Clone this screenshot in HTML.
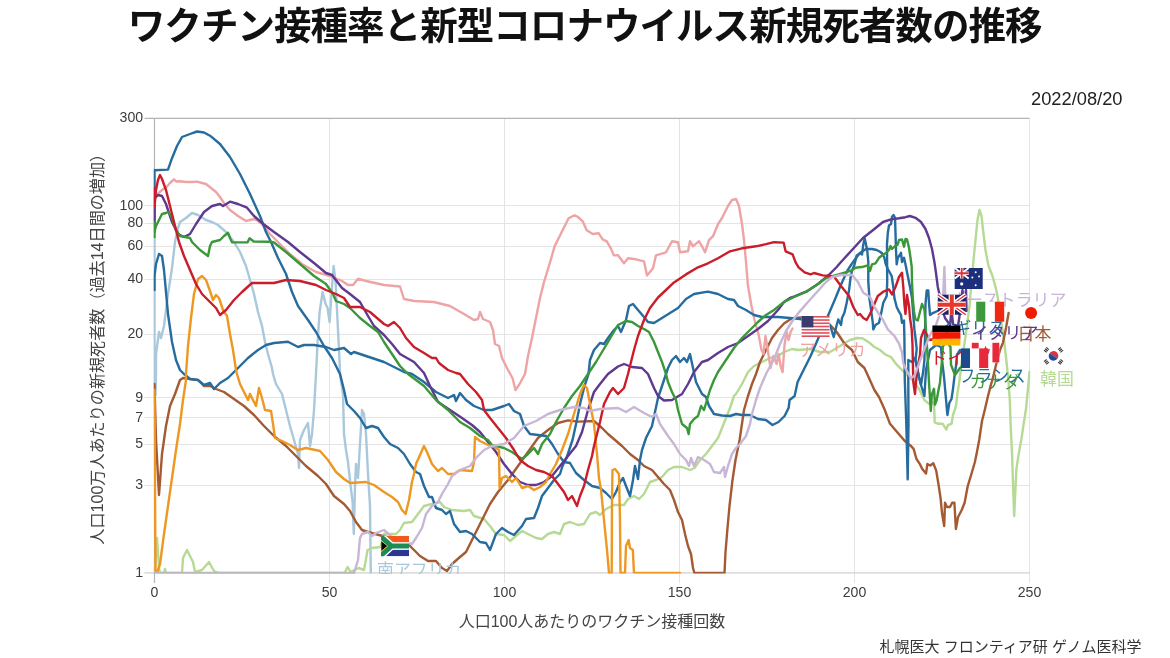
<!DOCTYPE html>
<html lang="ja"><head><meta charset="utf-8"><title>ワクチン接種率と新型コロナウイルス新規死者数の推移</title>
<style>
html,body{margin:0;padding:0;background:#fff;}
body{width:1170px;height:658px;overflow:hidden;position:relative;font-family:"Liberation Sans","Noto Sans CJK JP",sans-serif;}
svg{position:absolute;left:0;top:0;display:block;}
.t{font-family:"Liberation Sans","Noto Sans CJK JP",sans-serif;}
.tick{font-size:14.1px;fill:#3c3c3c;}
.ln{fill:none;stroke-width:2.4;stroke-linejoin:round;stroke-linecap:round;}
.lab{font-size:16.9px;}
</style></head><body>
<svg width="1170" height="658" viewBox="0 0 1170 658">
<rect width="1170" height="658" fill="#fff"/>
<text class="t" x="584.7" y="38.8" text-anchor="middle" font-size="37.5" letter-spacing="-0.95" font-weight="bold" fill="#111">ワクチン接種率と新型コロナウイルス新規死者数の推移</text>
<text class="t" x="1122.5" y="104.7" text-anchor="end" font-size="18.3" fill="#222">2022/08/20</text>
<text class="t" x="1141.5" y="651.8" text-anchor="end" font-size="15" fill="#333">札幌医大 フロンティア研 ゲノム医科学</text>
<text class="t" x="592" y="626.6" text-anchor="middle" font-size="16" fill="#444">人口100人あたりのワクチン接種回数</text>
<text class="t" transform="translate(103.2,345.3) rotate(-90)" text-anchor="middle" font-size="16.1" fill="#444">人口100万人あたりの新規死者数（過去14日間の増加）</text>
<g stroke="#e4e4e4" stroke-width="1" fill="none">
<line x1="144.5" y1="485.5" x2="1029.5" y2="485.5"/>
<line x1="144.5" y1="444.5" x2="1029.5" y2="444.5"/>
<line x1="144.5" y1="417.5" x2="1029.5" y2="417.5"/>
<line x1="144.5" y1="397.5" x2="1029.5" y2="397.5"/>
<line x1="144.5" y1="334.5" x2="1029.5" y2="334.5"/>
<line x1="144.5" y1="279.5" x2="1029.5" y2="279.5"/>
<line x1="144.5" y1="246.5" x2="1029.5" y2="246.5"/>
<line x1="144.5" y1="223.5" x2="1029.5" y2="223.5"/>
<line x1="144.5" y1="205.5" x2="1029.5" y2="205.5"/>
<line x1="329.5" y1="118.3" x2="329.5" y2="583"/>
<line x1="504.5" y1="118.3" x2="504.5" y2="583"/>
<line x1="679.5" y1="118.3" x2="679.5" y2="583"/>
<line x1="854.5" y1="118.3" x2="854.5" y2="583"/>
<line x1="1029.5" y1="118.3" x2="1029.5" y2="583"/>
</g>
<line x1="144.5" y1="572.8" x2="1029.5" y2="572.8" stroke="#d0d0d0" stroke-width="1.2"/>
<g stroke="#b4b4b4" stroke-width="1.2" fill="none">
<line x1="144.5" y1="118.4" x2="1029.5" y2="118.4"/>
<line x1="154.5" y1="118.3" x2="154.5" y2="583"/>
</g>
<text class="t tick" x="143.1" y="576.5" text-anchor="end">1</text>
<text class="t tick" x="143.1" y="489.0" text-anchor="end">3</text>
<text class="t tick" x="143.1" y="448.3" text-anchor="end">5</text>
<text class="t tick" x="143.1" y="421.5" text-anchor="end">7</text>
<text class="t tick" x="143.1" y="401.5" text-anchor="end">9</text>
<text class="t tick" x="143.1" y="337.8" text-anchor="end">20</text>
<text class="t tick" x="143.1" y="282.6" text-anchor="end">40</text>
<text class="t tick" x="143.1" y="250.3" text-anchor="end">60</text>
<text class="t tick" x="143.1" y="227.4" text-anchor="end">80</text>
<text class="t tick" x="143.1" y="209.6" text-anchor="end">100</text>
<text class="t tick" x="143.1" y="122.1" text-anchor="end">300</text>
<text class="t tick" x="154.5" y="597.3" text-anchor="middle">0</text>
<text class="t tick" x="329.5" y="597.3" text-anchor="middle">50</text>
<text class="t tick" x="504.5" y="597.3" text-anchor="middle">100</text>
<text class="t tick" x="679.5" y="597.3" text-anchor="middle">150</text>
<text class="t tick" x="854.5" y="597.3" text-anchor="middle">200</text>
<text class="t tick" x="1029.5" y="597.3" text-anchor="middle">250</text>
<clipPath id="cp"><rect x="153.6" y="116.8" width="876.8" height="456.7"/></clipPath>
<clipPath id="cl"><rect x="300" y="500" width="200" height="73.90000000000009"/></clipPath>
<filter id="bl" x="-2%" y="-2%" width="104%" height="104%"><feGaussianBlur stdDeviation="0.6"/></filter>
<g clip-path="url(#cp)"><g filter="url(#bl)">
<polyline class="ln" stroke="#aac8dc" points="154.5,236.0 154.5,395.0 155.5,395.0 156.0,374.0 156.0,354.0 159.0,332.0 161.0,338.0 164.0,326.0 168.0,294.0 172.0,268.0 175.0,242.0 178.0,228.0 180.0,222.0 186.0,218.0 192.0,213.0 198.0,215.0 206.0,220.0 212.0,222.0 218.0,225.0 226.0,232.0 234.0,242.0 240.0,252.0 246.0,266.0 250.0,280.0 254.0,294.0 258.0,312.0 262.0,326.0 265.0,342.0 268.0,354.0 272.0,368.0 273.0,374.0 276.0,384.0 282.0,394.0 286.0,410.0 290.0,426.0 294.0,440.0 298.0,454.0 299.0,468.0 300.0,440.0 304.0,430.0 308.0,423.0 310.0,446.0 312.0,434.0 314.0,410.0 316.0,374.0 317.6,342.0 319.6,312.0 322.6,292.0 325.6,304.0 327.6,308.0 329.6,322.0 331.6,292.0 333.6,266.0 335.6,282.0 337.6,322.0 339.6,362.0 340.0,374.0 343.0,394.0 344.0,434.0 346.0,450.0 348.0,462.0 350.6,486.0 352.6,502.0 353.8,534.0 355.0,486.0 356.0,464.0 358.0,478.0 360.0,444.0 362.0,410.0 364.0,414.0 366.0,434.0 368.0,474.0 370.0,506.0 370.8,573.0"/>
<polyline class="ln" stroke="#b6da94" points="154.5,573.0 157.0,538.0 159.0,568.0 160.0,573.0 164.0,573.0 165.0,569.0 166.0,573.0 182.0,573.0 183.0,558.0 187.0,550.0 190.0,556.0 193.0,562.0 195.0,572.0 202.0,570.0 209.0,562.0 214.0,571.0 219.0,573.0 344.6,573.0 347.6,567.0 350.6,572.0 358.6,568.0 364.0,570.0 367.6,550.0 372.0,548.0 380.6,547.0 384.0,534.0 396.0,534.0 400.0,530.0 404.0,523.0 412.0,522.0 418.0,514.0 424.0,506.0 432.0,504.0 440.0,502.0 444.0,507.0 452.0,510.0 464.0,511.0 470.0,510.0 474.0,516.0 484.0,519.0 490.0,526.0 496.0,534.0 504.0,535.0 510.0,541.0 516.0,536.0 522.0,531.0 528.0,534.0 536.0,538.0 542.0,539.0 548.0,534.0 554.0,532.0 560.0,534.0 564.0,524.0 570.0,522.0 578.0,525.0 584.0,524.0 590.0,514.0 596.0,512.0 600.0,515.0 606.0,509.0 614.0,505.0 624.0,505.0 628.0,499.0 634.0,496.0 639.0,499.0 644.0,494.0 650.0,482.0 656.0,480.0 662.0,477.0 668.0,470.0 674.0,467.0 682.0,467.0 690.0,470.0 694.5,468.0 700.0,460.0 706.0,454.0 712.0,446.0 718.0,438.0 722.0,428.0 726.0,418.0 730.0,408.0 734.0,396.0 736.0,394.0 742.0,384.0 748.0,372.0 754.0,366.0 762.0,362.0 770.0,358.0 778.0,356.0 784.0,352.0 792.0,349.0 798.0,350.0 810.0,349.0 820.0,352.0 830.0,352.0 840.0,346.0 850.0,340.0 857.0,338.0 863.0,338.5 869.0,342.4 874.4,347.0 880.0,350.0 885.5,354.7 891.0,357.0 896.7,364.7 902.0,370.0 907.8,375.8 913.3,381.0 919.0,389.0 924.4,400.0 930.0,404.7 934.0,402.0 934.7,422.3 938.4,423.8 942.7,423.8 946.4,429.6 948.0,425.0 951.5,423.8 953.0,415.0 956.0,406.0 957.3,394.6 959.5,380.0 962.0,360.0 965.0,340.0 967.0,325.0 969.5,306.0 971.5,282.0 973.5,260.0 975.5,240.0 977.5,220.0 979.5,210.0 981.5,216.0 983.5,234.0 985.5,250.0 988.5,266.0 992.5,276.0 996.3,290.0 998.5,302.0 1001.0,320.0 1004.0,340.0 1006.5,362.0 1008.4,380.0 1009.9,402.0 1010.6,423.8 1012.0,453.0 1013.5,498.0 1014.2,516.0 1015.0,498.0 1016.4,469.0 1018.6,454.6 1021.5,438.4 1023.7,423.8 1026.0,409.0 1027.4,394.6 1028.8,380.0 1029.5,372.0"/>
<polyline class="ln" stroke="#a45a32" points="154.5,384.0 156.0,440.0 159.0,495.0 162.0,454.0 166.0,426.0 170.0,406.0 175.0,394.0 180.0,380.0 183.0,378.0 190.0,379.0 198.0,380.0 204.0,386.0 210.0,386.0 216.0,389.0 224.0,392.0 234.0,399.0 244.0,406.0 254.0,415.0 264.0,426.0 274.0,436.0 286.0,446.0 296.0,456.0 306.0,466.0 318.0,476.0 326.0,484.0 334.0,496.0 344.0,504.0 350.0,511.0 356.0,522.0 362.0,530.0 368.0,532.0 390.0,538.0 408.0,544.0 414.0,550.0 420.0,556.0 428.0,561.0 436.0,561.0 442.0,568.0 447.0,571.0 452.0,564.0 460.0,557.0 466.0,552.0 472.0,540.0 478.0,528.0 484.0,516.0 490.0,504.0 498.0,492.0 508.0,480.0 518.0,466.0 528.0,452.0 538.0,438.0 548.0,430.0 558.0,423.0 568.0,420.4 578.0,421.6 594.0,421.0 602.0,428.0 608.0,434.0 615.0,440.0 622.0,446.0 630.0,454.0 638.0,460.0 644.0,466.0 652.0,470.0 658.0,477.0 664.0,484.0 670.0,490.0 674.0,500.0 678.0,512.0 682.0,520.0 685.0,534.0 688.0,546.0 691.0,554.0 693.0,568.0 694.4,573.0 724.5,573.0 725.5,552.0 727.5,528.0 729.5,506.0 732.5,480.0 735.5,460.0 739.6,440.0 744.0,410.0 748.0,396.0 752.0,384.0 756.0,374.0 760.0,362.0 766.0,350.0 772.0,338.0 778.0,330.0 784.0,323.5 790.0,319.5 794.0,318.0 802.0,317.5 815.0,319.0 829.7,324.5 836.7,332.0 844.8,344.0 852.0,350.0 857.8,362.0 864.4,368.0 869.0,378.0 874.4,390.0 879.0,397.0 884.4,409.0 890.0,423.8 897.5,432.5 904.8,441.0 910.6,445.7 913.6,448.8 916.5,459.0 919.4,463.3 922.3,469.0 926.0,473.6 927.4,464.0 930.3,465.5 933.3,463.3 936.2,470.6 938.4,483.8 940.6,498.4 942.0,513.0 944.2,526.0 945.0,502.7 947.0,507.0 950.0,507.0 952.2,502.7 954.4,502.7 955.9,529.0 958.0,517.3 961.7,510.0 964.6,502.7 967.6,486.7 972.0,472.0 974.9,462.0 977.0,451.7 979.2,440.0 982.0,421.0 985.0,409.0 988.0,396.0 991.0,384.4 992.4,380.0 996.0,365.0 1000.0,350.0 1003.0,342.6 1006.0,328.0 1008.6,313.0"/>
<polyline class="ln" stroke="#eea4a4" points="154.5,206.0 155.5,198.0 158.0,193.5 162.0,190.0 166.5,187.0 170.0,183.0 174.0,179.3 176.0,181.5 180.0,181.3 186.0,182.0 192.0,182.0 197.0,181.6 202.0,183.0 206.0,184.0 211.0,188.0 216.0,192.0 220.0,197.0 224.0,203.0 230.0,210.0 238.0,216.0 246.0,221.0 250.0,220.0 254.0,219.0 258.0,221.0 262.0,224.0 270.0,234.0 278.0,242.0 290.0,254.0 302.0,264.0 316.0,272.0 330.0,276.0 342.0,281.0 348.0,285.0 353.0,285.0 358.0,278.7 366.0,281.0 384.0,285.0 400.0,286.5 404.0,299.0 414.0,301.0 434.0,302.0 450.0,306.0 464.0,314.0 474.0,320.0 478.0,319.0 480.0,312.0 483.0,319.0 490.0,322.0 493.0,330.0 495.0,344.0 499.0,346.0 502.0,358.0 508.0,370.0 512.5,378.0 515.5,390.0 519.0,385.0 525.0,374.0 528.0,356.0 532.0,338.0 536.0,318.0 540.0,298.0 544.0,282.0 546.5,274.0 550.6,260.4 554.6,246.4 560.6,234.3 564.6,226.3 568.6,218.3 574.6,215.3 578.0,217.0 582.7,221.3 586.7,230.3 592.7,234.0 598.7,233.3 602.7,239.3 606.8,241.3 610.8,248.4 613.8,255.4 618.0,255.3 624.0,263.3 628.0,258.3 636.0,259.3 644.0,261.3 647.0,275.4 653.0,268.3 656.0,255.3 666.0,252.3 672.0,241.2 678.0,242.2 680.0,252.3 688.0,251.3 690.0,241.2 693.0,246.3 699.0,241.2 702.0,246.3 705.0,252.3 709.0,240.2 713.0,236.2 718.0,224.2 722.0,218.0 728.0,206.0 732.0,200.0 736.0,199.0 739.0,206.0 742.0,224.0 744.0,240.0 746.0,262.0 748.0,286.0 751.5,306.0 754.5,320.0 758.5,334.0 761.5,350.0 763.5,354.0 765.5,336.0 767.5,348.0 770.5,368.0 773.5,356.0 776.6,364.0 778.6,354.0 780.6,366.0 782.6,372.0 784.6,344.0 786.6,332.0 788.6,340.0 790.6,332.0 792.5,328.5"/>
<polyline class="ln" stroke="#266c9e" points="154.5,232.0 154.5,170.2 168.0,169.6 172.0,158.2 177.0,146.0 182.0,137.0 190.0,134.0 197.0,131.5 204.0,132.5 210.0,135.7 220.0,144.0 230.0,157.0 240.0,174.0 250.0,194.0 260.0,216.0 266.0,232.0 271.0,242.0 278.0,258.0 286.0,274.0 292.0,292.0 298.0,306.0 308.0,320.0 316.0,332.0 324.0,346.0 332.0,358.0 338.0,370.0 340.0,374.0 344.0,390.0 347.0,404.0 354.0,411.0 360.0,418.0 366.0,428.0 372.0,426.0 378.0,428.0 384.0,437.0 390.0,444.0 398.0,448.0 404.0,454.0 410.0,464.0 416.0,472.0 420.0,474.0 424.0,486.0 429.0,497.0 432.0,497.0 436.0,508.0 442.0,510.0 446.0,514.0 450.0,511.0 454.0,524.0 460.0,532.0 466.0,531.0 472.0,534.0 480.0,542.0 486.0,543.0 490.0,550.0 493.0,542.0 496.0,534.0 502.0,528.0 508.0,532.0 514.0,535.0 522.0,526.0 526.0,519.0 534.0,518.0 538.0,508.0 542.0,496.0 548.0,488.0 554.0,480.0 560.0,474.0 562.5,466.0 566.5,458.0 572.5,440.0 576.5,422.0 580.5,402.0 584.5,386.0 588.5,374.0 590.0,360.0 594.0,350.0 600.0,343.0 604.0,344.0 608.0,338.0 614.0,330.0 618.0,326.0 621.0,332.0 626.0,320.0 629.0,306.0 633.0,304.0 638.0,310.0 644.0,317.0 648.0,322.0 654.0,323.0 662.0,318.0 670.0,313.0 678.0,308.0 686.0,299.0 694.0,294.0 708.0,291.6 718.0,294.0 728.0,299.0 734.0,300.0 738.0,306.0 746.0,310.0 754.0,315.0 762.0,317.0 778.0,317.0 790.0,318.0 800.0,319.0 830.0,325.0 833.7,337.0 836.7,325.0 838.3,319.4 841.0,325.0 842.0,318.0 844.4,312.8 846.7,302.8 849.0,290.5 850.5,278.0 852.0,270.5 854.4,265.0 856.7,255.5 860.0,253.3 862.0,254.4 863.3,244.4 864.7,238.3 866.0,244.4 867.2,250.0 868.3,262.0 868.3,281.7 869.4,298.3 871.0,309.4 872.8,322.8 873.3,329.4 875.5,325.0 879.0,322.8 881.0,314.0 883.3,302.8 886.7,296.0 887.2,281.7 887.0,244.4 887.8,233.0 889.0,225.5 891.0,224.0 892.0,216.7 893.5,215.0 895.0,217.8 895.5,233.0 896.0,250.0 896.7,264.4 897.8,257.8 899.4,255.5 901.0,252.8 902.0,262.0 904.0,257.8 905.5,264.4 907.8,276.0 910.0,287.0 912.0,298.0 913.3,315.0 914.4,329.4 915.5,338.0 916.7,349.0 915.5,360.0 919.0,377.0 921.0,384.7 923.3,371.0 924.4,360.0 925.0,338.0 925.5,304.0 926.7,290.5 928.3,290.5 929.0,302.8 930.0,315.0 933.3,312.8 940.0,310.0 952.0,304.8"/>
<polyline class="ln" stroke="#266c9e" points="154.5,290.0 154.5,276.0 156.0,264.0 159.0,254.0 162.0,256.0 164.0,270.0 166.0,292.0 168.0,314.0 172.0,342.0 176.0,360.0 180.0,370.0 184.0,374.0 190.0,379.0 198.0,380.0 204.0,385.0 210.0,383.0 214.0,389.0 220.0,383.0 228.0,378.0 232.0,374.0 240.0,366.0 248.0,358.0 258.0,350.0 266.0,345.0 274.0,343.0 288.0,341.7 298.0,347.0 304.0,345.0 314.0,345.0 326.0,347.0 334.0,350.0 344.0,348.0 351.0,354.0 354.0,352.0 366.0,356.0 384.0,362.0 396.0,368.0 404.0,372.0 412.0,374.0 424.0,382.0 436.0,392.0 448.0,398.0 454.0,395.0 456.0,401.0 460.0,393.0 466.0,400.0 474.0,406.0 484.0,410.0 492.0,410.0 504.0,406.0 509.0,404.0 514.0,411.0 520.0,414.0 524.0,426.0 530.0,434.0 538.0,435.0 546.0,436.0 552.0,444.0 558.0,454.0 564.0,462.0 570.0,463.0 576.0,473.0 584.0,480.0 592.0,486.0 600.0,488.0 606.0,493.0 612.0,499.0 616.0,492.0 620.0,482.0 623.0,478.0 626.0,486.0 630.0,496.0 633.0,480.0 635.0,466.0 638.0,479.0 640.0,460.0 642.0,450.0 646.0,438.0 650.0,430.0 652.0,426.0 655.0,412.0 658.0,398.0 662.0,386.0 666.0,374.0 668.0,368.0 672.0,360.0 676.0,356.0 680.0,362.0 684.0,358.0 687.0,362.0 690.0,354.0 693.0,368.0 696.0,382.0 698.0,386.0 702.0,394.0 706.0,397.0 709.0,406.0 714.0,414.0 722.0,415.5 730.0,416.0 736.0,414.0 742.0,415.0 750.0,415.0 758.0,419.0 766.0,420.0 772.5,425.0 778.5,422.0 784.6,416.0 788.6,408.0 789.6,400.0 794.6,396.0 797.6,382.0 804.6,368.0 810.6,356.0 816.7,342.0 822.7,328.0 828.7,314.0 834.7,300.0 840.4,286.0 845.8,274.0 847.8,270.0 851.0,265.0 856.0,258.0 860.0,253.0 866.0,249.0 872.0,249.0 876.7,250.0 880.0,251.7 882.0,253.3 884.4,257.8 885.5,263.3 887.8,269.0 890.0,273.0 891.7,276.0 893.3,287.0 894.4,298.0 896.7,307.0 899.0,311.7 901.0,315.0 902.0,322.8 904.0,320.5 904.4,338.0 904.8,380.0 906.3,423.8 907.7,479.4 908.5,423.8 908.3,382.0 908.3,360.0 912.0,362.0 915.0,358.0 919.0,377.0 921.0,385.0 924.4,396.0 926.0,370.0 930.0,350.0 936.0,345.0 941.0,347.0 942.0,360.0 944.0,377.0 945.5,393.5 947.4,415.0 949.3,403.0 951.5,399.0 953.0,388.8 954.4,377.0 956.0,365.8 957.0,354.7 960.0,350.0 974.7,358.0"/>
<polyline class="ln" stroke="#5e3890" points="154.5,223.0 154.5,198.0 158.0,195.0 162.0,196.0 166.0,204.0 172.0,222.0 178.0,234.0 184.0,237.0 190.0,234.0 196.0,224.0 204.0,212.0 212.0,206.0 220.0,204.0 223.0,206.0 230.0,201.7 238.0,204.0 247.0,207.7 254.0,216.0 262.0,223.0 274.0,232.0 288.0,242.0 300.0,252.0 314.0,263.0 326.0,273.0 332.0,275.0 342.0,288.0 350.0,294.0 360.0,302.0 368.0,316.0 374.0,326.0 384.0,335.0 392.0,344.0 400.0,354.0 414.0,362.0 424.0,373.0 430.0,386.0 438.0,402.0 450.0,410.0 462.0,418.0 472.0,425.0 480.0,432.0 488.0,442.0 496.0,452.0 504.0,464.0 512.0,474.0 520.0,482.0 528.0,485.0 536.0,485.0 544.0,482.0 552.0,476.0 560.0,466.0 568.0,456.0 576.0,446.0 582.0,432.0 588.0,410.0 594.0,392.0 600.0,384.0 608.0,374.0 618.0,366.5 624.0,364.0 632.0,367.0 642.0,368.0 648.0,374.0 654.0,388.0 658.0,396.0 664.0,400.5 672.0,400.0 677.0,397.0 682.0,394.0 688.0,384.0 694.0,372.0 702.0,362.0 708.0,360.0 718.0,353.0 728.0,347.0 738.0,343.0 748.0,336.0 758.0,329.0 768.0,321.0 778.0,310.0 784.0,302.0 790.0,298.0 794.6,296.4 806.6,291.4 818.7,283.4 828.7,275.0 836.7,267.0 841.0,262.0 852.0,250.0 863.0,238.0 874.4,229.0 883.0,222.0 891.0,219.4 899.0,218.3 905.5,217.2 910.0,216.0 915.5,217.8 921.0,222.0 925.5,229.0 929.0,238.0 932.0,249.0 934.4,262.0 936.0,273.0 937.8,287.0 939.4,294.0 941.0,305.0 945.0,318.0 950.0,325.0 951.5,310.0 953.0,324.0 958.0,326.0 959.5,316.0 961.0,300.0 962.5,290.0 964.0,308.0 966.0,290.0 966.5,311.0"/>
<polyline class="ln" stroke="#3a9838" points="154.5,222.0 154.5,237.0 154.5,232.0 156.0,226.0 158.0,222.0 162.0,214.0 166.0,213.0 168.0,212.0 170.0,214.0 172.0,218.0 176.0,230.0 180.0,236.0 190.0,238.0 192.0,242.0 200.0,250.0 208.0,256.0 210.0,246.0 212.0,242.0 220.0,240.0 224.0,236.0 228.0,232.8 230.0,238.0 232.0,242.3 240.0,242.4 247.5,242.4 249.6,238.3 253.7,241.5 270.0,241.8 274.0,242.5 286.0,252.0 300.0,264.0 314.0,276.0 326.0,284.0 333.0,294.0 336.0,301.0 344.0,304.0 350.0,308.0 360.0,318.0 370.0,326.0 378.0,332.0 384.0,342.0 392.0,354.0 400.0,366.0 408.0,374.0 424.0,386.0 436.0,400.0 448.0,410.0 460.0,422.0 470.0,428.0 480.0,436.0 488.0,440.0 492.0,445.0 504.0,448.0 512.0,452.0 522.0,459.0 528.0,454.0 534.0,448.0 538.0,454.0 542.0,444.0 550.0,434.0 556.0,422.0 564.0,408.0 572.0,396.0 580.0,386.0 588.0,374.0 596.0,362.0 602.0,352.0 608.0,342.0 618.0,325.0 626.0,321.0 632.0,322.0 638.0,326.0 644.0,329.0 649.0,332.0 654.0,342.0 658.0,352.0 662.0,362.0 666.0,374.0 668.0,382.0 672.0,392.0 676.0,400.0 678.0,410.0 682.0,424.0 687.0,428.0 688.6,434.0 690.0,424.0 694.0,419.0 698.0,416.0 701.0,406.0 704.0,410.0 707.0,400.0 710.0,390.0 714.0,380.0 718.0,372.0 726.0,360.0 734.0,348.0 742.0,338.0 750.0,330.0 758.0,322.0 766.0,315.0 774.0,310.0 784.0,302.0 794.0,297.0 806.0,292.0 818.0,284.0 826.0,278.0 838.7,274.4 852.0,270.3 855.5,267.8 863.3,266.7 867.8,265.5 870.0,271.0 872.0,264.4 875.5,263.3 879.0,257.8 882.0,255.5 885.5,253.3 889.0,250.0 890.5,246.0 892.0,249.0 894.4,246.7 897.8,244.4 899.0,240.0 902.0,239.4 904.0,246.7 905.5,239.0 907.0,239.4 909.0,247.8 910.5,257.8 911.7,266.7 912.0,281.7 912.8,298.3 914.0,311.7 915.5,319.4 917.8,320.5 920.0,311.7 922.0,304.0 924.4,309.4 926.0,330.0 927.8,360.0 929.0,382.4 930.8,411.0 931.8,394.6 934.0,388.8 935.0,404.7 936.7,400.0 938.3,391.0 940.0,382.4 941.0,371.0 942.0,360.0 942.8,347.0 946.0,340.0 950.5,347.0 951.0,364.7 955.0,375.0 960.0,368.0 970.0,360.0 985.6,352.5"/>
<polyline class="ln" stroke="#ee9824" points="154.5,390.0 155.5,573.0 157.0,573.0 160.0,564.0 164.0,534.0 168.0,506.0 172.0,478.0 176.0,450.0 180.0,424.0 183.0,400.0 186.0,380.0 186.0,374.0 188.0,346.0 191.0,318.0 194.0,294.0 198.0,279.0 202.0,276.0 206.0,280.0 210.0,291.0 213.0,300.0 216.0,295.0 219.0,298.0 223.0,310.0 227.0,316.0 230.0,334.0 233.0,350.0 236.0,370.0 237.0,374.0 240.0,384.0 244.0,392.0 248.0,400.0 250.0,394.0 256.0,406.0 259.0,388.0 262.0,398.0 265.0,410.0 271.0,411.0 273.0,424.0 275.0,438.0 282.0,441.0 290.0,445.0 298.0,450.0 306.0,448.0 320.0,451.0 328.0,460.0 336.0,472.0 344.0,479.0 350.0,483.0 366.0,482.0 374.0,485.0 384.0,492.0 392.0,497.0 398.0,502.0 402.0,510.0 405.6,514.0 409.0,500.0 412.0,482.0 414.0,474.0 416.0,464.0 424.0,446.0 427.0,452.0 432.0,464.0 438.0,471.0 442.0,468.0 448.0,474.0 454.0,474.0 460.0,470.0 472.0,471.0 474.0,462.0 475.0,437.0 480.0,441.0 488.0,445.0 496.0,448.0 499.0,450.0 499.6,488.0 502.0,478.0 506.0,476.0 512.0,482.0 516.0,478.0 522.0,488.0 528.0,486.0 534.0,490.0 540.0,487.0 546.0,482.0 550.0,474.0 556.0,464.0 562.0,450.0 568.0,434.0 574.0,414.0 580.0,394.0 584.0,385.0 587.0,388.0 590.0,404.0 594.0,424.0 597.0,454.0 599.0,478.0 601.0,490.0 604.0,520.0 607.0,550.0 609.0,573.0 611.7,573.0 612.0,500.0 612.5,470.0 615.0,469.0 619.0,474.0 620.0,520.0 620.5,573.0 625.0,573.0 626.0,546.0 628.6,540.0 630.0,548.0 632.8,550.0 634.0,573.0 680.0,573.0"/>
<polyline class="ln" stroke="#ca1e2a" points="154.5,188.0 154.5,207.0 154.5,205.0 156.0,190.0 158.0,180.0 160.0,175.0 162.0,179.0 166.0,190.0 169.0,202.0 172.0,214.0 176.0,230.0 179.0,242.0 184.0,256.0 190.0,270.0 196.0,284.0 202.0,294.0 210.0,302.0 216.0,308.0 220.0,315.0 226.0,310.0 234.0,300.0 242.0,292.0 252.0,283.0 262.0,283.0 274.0,283.0 286.0,280.0 300.0,281.0 316.0,285.0 326.0,290.0 336.0,294.0 344.0,298.0 350.0,307.0 360.0,307.0 370.0,312.0 384.0,324.0 388.0,326.0 394.0,322.0 400.0,328.0 406.0,338.0 414.0,347.0 424.0,353.0 432.0,358.0 436.0,358.0 439.0,363.0 448.0,370.0 456.0,373.0 460.0,374.0 468.0,384.0 476.0,392.0 482.0,400.0 484.0,410.0 490.0,418.0 498.0,428.0 506.0,438.0 514.0,450.0 520.0,460.0 528.0,466.0 536.0,470.0 544.0,472.0 552.0,476.0 558.0,484.0 564.0,492.0 568.0,500.0 572.0,496.0 577.0,506.0 580.0,496.0 584.0,486.0 588.0,470.0 592.0,456.0 594.0,446.0 600.0,422.0 604.0,404.0 610.0,392.0 613.0,388.0 618.0,394.0 624.0,388.0 628.0,374.0 630.0,366.0 634.0,350.0 638.0,336.0 644.0,320.0 650.0,308.0 658.0,297.5 666.0,290.0 674.0,282.4 686.0,274.4 698.0,267.3 708.0,263.3 718.0,258.3 730.0,251.3 742.0,248.3 756.0,246.3 766.0,244.2 774.0,242.2 783.6,242.6 785.6,251.3 792.6,254.3 795.6,262.3 798.6,267.3 804.6,272.3 810.6,274.4 814.0,273.0 822.7,275.4 830.7,276.0 834.4,277.0 841.0,286.0 849.0,296.0 853.3,307.0 857.8,315.0 860.0,314.0 863.3,318.0 866.7,320.0 870.0,314.0 874.4,304.0 877.8,296.0 883.3,291.7 889.0,289.4 892.0,294.4 895.5,287.0 899.0,277.0 902.0,272.8 903.3,287.0 904.4,304.0 905.5,314.0 907.0,295.0 909.0,306.0 910.0,318.0 911.7,329.4 912.5,345.0 913.3,382.0 915.0,394.0 916.0,382.0 917.8,366.0 920.0,355.0 921.0,338.0 924.0,330.0 930.0,340.0 946.0,336.0"/>
<polyline class="ln" stroke="#c8b6d6" points="154.5,573.0 354.0,573.0 358.0,560.0 360.0,538.0 362.0,534.0 368.0,532.0 372.0,536.0 376.0,533.0 384.0,530.0 395.0,540.0 412.0,544.0 416.0,538.0 422.0,528.0 426.0,514.0 432.0,506.0 438.0,502.0 442.0,494.0 448.0,484.0 452.0,476.0 460.0,470.0 470.0,466.0 476.0,458.0 484.0,450.0 492.0,446.0 504.0,444.0 514.0,438.0 524.0,426.0 536.0,421.0 548.0,414.0 560.0,410.0 574.0,407.0 584.0,408.0 590.0,411.0 600.0,409.0 618.0,408.0 626.0,412.0 634.0,407.0 644.0,413.0 652.0,417.0 656.0,414.0 660.0,424.0 668.0,436.0 674.0,444.0 680.0,454.0 686.0,460.0 689.0,466.0 691.0,458.0 694.0,466.0 698.0,457.0 704.0,460.0 710.0,464.0 714.0,472.0 720.0,473.0 724.0,467.0 725.0,477.0 728.0,466.0 732.0,454.0 736.0,448.0 740.0,444.0 746.0,436.0 750.0,424.0 752.0,414.0 756.0,400.0 760.0,388.0 766.0,374.0 774.5,358.0 780.0,344.0 786.0,331.0 792.4,321.0 799.6,311.6 808.0,302.0 818.8,290.0 826.0,282.0 832.0,277.0 841.0,275.0 852.0,275.0 857.8,281.7 863.3,292.8 870.0,297.0 874.4,307.0 879.0,314.0 883.3,320.5 887.8,329.4 894.4,336.0 899.0,343.5 902.0,352.4 903.3,363.5 906.7,371.0 911.0,378.0 914.4,375.8 917.8,367.0 921.0,358.0 924.4,349.0 930.0,335.0 936.0,325.0 941.0,310.0 943.3,292.8 944.4,267.0 945.2,294.0"/>
</g></g>
<line x1="154.5" y1="572.8" x2="355" y2="572.8" stroke="#b9b8bc" stroke-width="1.5"/>
<text class="t lab" x="1040" y="384.5" fill="#b6da94">韓国</text>
<g transform="translate(1053.5,355.9)"><rect x="-14.0" y="-10.0" width="28" height="20" fill="#fff"/><path d="M-4.8,0 A4.8,4.8 0 0 1 4.8,0 Z" fill="#d8343c" transform="rotate(33)"/><path d="M-4.8,0 A4.8,4.8 0 0 0 4.8,0 Z" fill="#1c4c9c" transform="rotate(33)"/><g stroke="#333" stroke-width="3.4" stroke-dasharray="1.2,0.6"><line x1="-8.6" y1="-4.2" x2="-5.6" y2="-7.8"/><line x1="5.6" y1="-7.8" x2="8.6" y2="-4.2"/><line x1="-8.6" y1="4.2" x2="-5.6" y2="7.8"/><line x1="5.6" y1="7.8" x2="8.6" y2="4.2"/></g></g>
<text class="t lab" x="1017.5" y="339.5" fill="#a45a32">日本</text>
<g><rect x="1017.0999999999999" y="302.5" width="28" height="21" fill="#fff"/><circle cx="1031.1" cy="313" r="6" fill="#f01a00"/></g>
<text class="t lab" x="949" y="306" fill="#c8b6d6">オーストラリア</text>
<g transform="translate(954.7,268)"><rect width="28" height="21" fill="#1c2f7c"/><path d="M0,0 L14.0,10.5 M14.0,0 L0,10.5" stroke="#fff" stroke-width="2"/><path d="M7.0,0 V10.5 M0,5.25 H14.0" stroke="#fff" stroke-width="3.4"/><path d="M7.0,0 V10.5 M0,5.25 H14.0" stroke="#e0303c" stroke-width="1.8"/><circle cx="7.0" cy="15.96" r="1.6" fill="#fff"/><circle cx="21.0" cy="4.2" r="1" fill="#fff"/><circle cx="21.0" cy="17.22" r="1" fill="#fff"/><circle cx="17.64" cy="9.450000000000001" r="1" fill="#fff"/><circle cx="24.36" cy="8.4" r="1" fill="#fff"/></g>
<text class="t lab" x="937.5" y="333.5" fill="#266c9e">イギリス</text>
<g transform="translate(937.8,294.7)"><rect width="28" height="20" fill="#1c2460"/><path d="M0,0 L28,20 M28,0 L0,20" stroke="#fff" stroke-width="4"/><path d="M0,0 L28,20 M28,0 L0,20" stroke="#e0303c" stroke-width="1.4"/><path d="M14.0,0 V20 M0,10.0 H28" stroke="#fff" stroke-width="6.4"/><path d="M14.0,0 V20 M0,10.0 H28" stroke="#e8382c" stroke-width="4"/></g>
<text class="t lab" x="971.5" y="339" fill="#5e3890">イタリア</text>
<g transform="translate(976.2,301.7)"><rect width="9.33" height="20" fill="#3c9a3c"/><rect x="9.33" width="9.33" height="20" fill="#fff"/><rect x="18.67" width="9.33" height="20" fill="#f02810"/></g>
<text class="t lab" x="930.5" y="363.5" fill="#ca1e2a">ドイツ</text>
<g transform="translate(932.4,325.5)"><rect width="28" height="6.67" fill="#000"/><rect y="6.67" width="28" height="6.67" fill="#f01800"/><rect y="13.33" width="28" height="6.67" fill="#ffb400"/></g>
<text class="t lab" x="958.5" y="382" fill="#266c9e">フランス</text>
<g transform="translate(971.8,342.8)"><rect width="27.5" height="19.6" fill="#fff"/><rect width="6.875" height="19.6" fill="#e8283c"/><rect x="20.625" width="6.875" height="19.6" fill="#e8283c"/><path d="M13.75,2.94 L15.400000000000002,6.86 L18.150000000000002,5.88 L17.05,10.780000000000001 L14.575000000000001,12.740000000000002 L14.575000000000001,16.66 L12.924999999999999,16.66 L12.924999999999999,12.740000000000002 L10.45,10.780000000000001 L9.350000000000001,5.88 L12.1,6.86 Z" fill="#e8283c"/></g>
<text class="t lab" x="969.5" y="387.5" fill="#3a9838">カナダ</text>
<g transform="translate(961,348.4)"><rect width="9.07" height="19.6" fill="#1c4c8c"/><rect x="9.07" width="9.07" height="19.6" fill="#fff"/><rect x="18.13" width="9.07" height="19.6" fill="#e8283c"/></g>
<text class="t lab" x="799" y="355.5" fill="#eea4a4">アメリカ</text>
<g transform="translate(801.6,316)"><rect width="28" height="21" fill="#fff"/><rect y="0.00" width="28" height="1.62" fill="#e0505c"/><rect y="3.23" width="28" height="1.62" fill="#e0505c"/><rect y="6.46" width="28" height="1.62" fill="#e0505c"/><rect y="9.69" width="28" height="1.62" fill="#e0505c"/><rect y="12.92" width="28" height="1.62" fill="#e0505c"/><rect y="16.15" width="28" height="1.62" fill="#e0505c"/><rect y="19.38" width="28" height="1.62" fill="#e0505c"/><rect width="11.8" height="11.31" fill="#3c3b6e"/></g>
<text class="t lab" x="377" y="576" fill="#aac8dc" clip-path="url(#cl)">南アフリカ</text>
<svg x="381" y="535.8" width="28" height="20.5" viewBox="0 0 28 20.5" overflow="hidden"><rect width="28" height="20.5" fill="#fff"/><rect width="28" height="6.8" fill="#f4581c"/><rect y="13.7" width="28" height="6.8" fill="#2c3494"/><path d="M0,0 L12.3,10.25 L0,20.5 Z" fill="#fff"/><path d="M0,0.4 L10.6,10.25 L0,20.1 M10.6,10.25 L28,10.25" stroke="#fff" stroke-width="7.4" fill="none"/><path d="M-1,0.0 L10.6,10.25 L-1,20.5 M10.6,10.25 L28,10.25" stroke="#1c8c54" stroke-width="4.9" fill="none"/><path d="M0,4.9 L6.7,10.25 L0,15.6 Z" fill="#000" stroke="#f0b428" stroke-width="0.8"/></svg>
</svg>
</body></html>
